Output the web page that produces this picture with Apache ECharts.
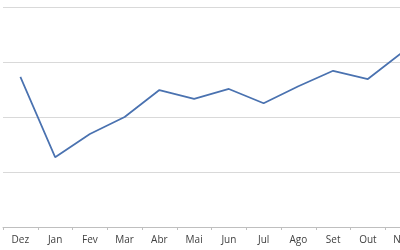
<!DOCTYPE html>
<html>
<head>
<meta charset="utf-8">
<script src="https://cdn.jsdelivr.net/npm/echarts@6/dist/echarts.min.js"></script>
<style>
html,body{margin:0;padding:0;background:#fff;}
#chart{width:400px;height:250px;}
</style>
</head>
<body>
<div id="chart"></div>
<script>
var categories = ['Dez','Jan','Fev','Mar','Abr','Mai','Jun','Jul','Ago','Set','Out','Nov'];
var values = [27.3, 12.7, 16.9, 20.0, 24.9, 23.3, 25.1, 22.5, 25.6, 28.4, 26.9, 31.8];
var yMin = 0, yMax = 40, yStep = 10;

var chart = echarts.init(document.getElementById('chart'), null, {renderer:'canvas'});
chart.setOption({
  animation: false,
  backgroundColor: '#ffffff',
  grid: {left: 3, top: 7, width: 417, height: 220, containLabel: false, outerBoundsMode: 'none'},
  xAxis: {
    type: 'category',
    data: categories,
    boundaryGap: true,
    axisLine: {lineStyle: {color: '#bfbfbf', width: 1}},
    axisTick: {show: true, length: 3, lineStyle: {color: '#bfbfbf'}},
    axisLabel: {color: '#404040', fontSize: 10, fontFamily: 'Open Sans', margin: 8, interval: 0},
    splitLine: {show: false}
  },
  yAxis: {
    type: 'value',
    min: yMin, max: yMax, interval: yStep,
    axisLine: {show: false},
    axisTick: {show: false},
    axisLabel: {show: false},
    splitLine: {lineStyle: {color: '#d9d9d9', width: 1}}
  },
  series: [{
    type: 'line',
    data: values,
    symbol: 'none',
    lineStyle: {color: '#4a72b0', width: 1.75},
    itemStyle: {color: '#4a72b0'}
  }]
});
</script>
</body>
</html>
